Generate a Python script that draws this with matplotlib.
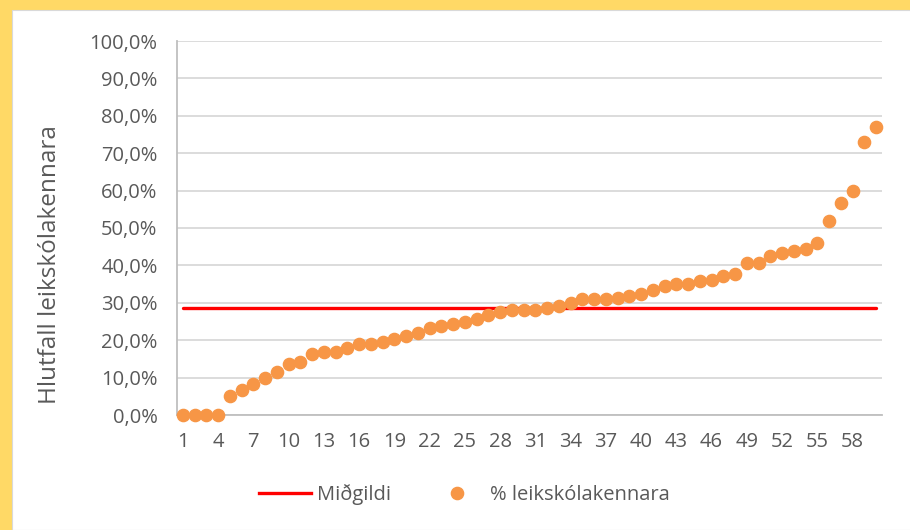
import matplotlib
matplotlib.use("Agg")
import matplotlib.pyplot as plt
from matplotlib.patches import Rectangle
from matplotlib.lines import Line2D
import numpy as np

plt.rcParams['font.family'] = ['Open Sans', 'DejaVu Sans']

categories = list(range(1, 61))
values = [0.0, 0.0, 0.0, 0.0, 5.2, 6.7, 8.3, 9.9, 11.5, 13.7,
          14.2, 16.3, 16.8, 16.8, 17.9, 18.9, 18.9, 19.5, 20.2, 21.1,
          22.0, 23.3, 23.9, 24.4, 25.0, 25.8, 26.8, 27.5, 28.1, 28.1,
          28.0, 28.5, 29.1, 30.0, 31.1, 31.1, 31.1, 31.2, 31.8, 32.3,
          33.3, 34.5, 35.0, 35.0, 35.9, 36.1, 37.2, 37.7, 40.7, 40.7,
          42.4, 43.4, 43.9, 44.4, 46.0, 51.8, 56.7, 60.0, 73.1, 76.9]
median_value = 28.5
y_ticks = [0, 10, 20, 30, 40, 50, 60, 70, 80, 90, 100]
y_tick_labels = ["0,0%", "10,0%", "20,0%", "30,0%", "40,0%", "50,0%",
                 "60,0%", "70,0%", "80,0%", "90,0%", "100,0%"]
x_tick_values = list(range(1, 61, 3))

series_label = "% leikskólakennara"
median_label = "Miðgildi"
y_label = "Hlutfall leikskólakennara"

W, H = 910, 530
fig = plt.figure(figsize=(W / 100, H / 100), dpi=100)
fig.patch.set_facecolor('#FFD966')
# white panel
fig.patches.append(Rectangle((12 / W, 0), 1, 1 - 10 / H, transform=fig.transFigure,
                             facecolor='white', edgecolor='#D9D9D9', linewidth=0.8, zorder=-5))

ax = fig.add_axes([177 / W, 115 / H, (882 - 177) / W, (415 - 41) / H])
ax.set_zorder(2)
ax.set_facecolor('none')

ax.plot([categories[0], categories[-1]], [median_value, median_value], color='#FF0000',
        linewidth=2.4, solid_capstyle='round', zorder=3)
ax.plot(categories, values, linestyle='none', marker='o', markersize=8.8,
        markerfacecolor='#F79646', markeredgecolor='#F79646', zorder=4, clip_on=False)

ax.set_xlim(0.5, 60.5)
ax.set_ylim(0, 100)
ax.set_yticks(y_ticks)
ax.set_yticklabels(y_tick_labels)
ax.set_xticks(x_tick_values)
ax.set_xticklabels([str(v) for v in x_tick_values])
ax.tick_params(axis='both', length=0, labelsize=14.5, labelcolor='#595959')
ax.tick_params(axis='y', pad=14)
ax.tick_params(axis='x', pad=12)
ax.grid(axis='y', color='#D9D9D9', linewidth=1.3)
ax.set_axisbelow(True)
for s in ['top', 'right']:
    ax.spines[s].set_visible(False)
ax.spines['left'].set_color('#BFBFBF')
ax.spines['bottom'].set_color('#BFBFBF')
ax.spines['left'].set_linewidth(1.3)
ax.spines['bottom'].set_linewidth(1.3)

fig.text(50 / W, 1 - 265 / H, y_label, rotation=90, ha='center', va='center',
         fontsize=17.5, color='#595959')

handles = [Line2D([0], [0], color='#FF0000', linewidth=2.4),
           Line2D([0], [0], linestyle='none', marker='o', markersize=8.8,
                  markerfacecolor='#F79646', markeredgecolor='#F79646')]
fig.legend(handles, [median_label, series_label], loc='center',
           bbox_to_anchor=(464 / W, 1 - 495 / H), ncol=2, frameon=False,
           fontsize=14.5, labelcolor='#595959', handlelength=2.6,
           columnspacing=2.0, handletextpad=0.3)

fig.savefig('out.png', dpi=100, facecolor=fig.get_facecolor())
